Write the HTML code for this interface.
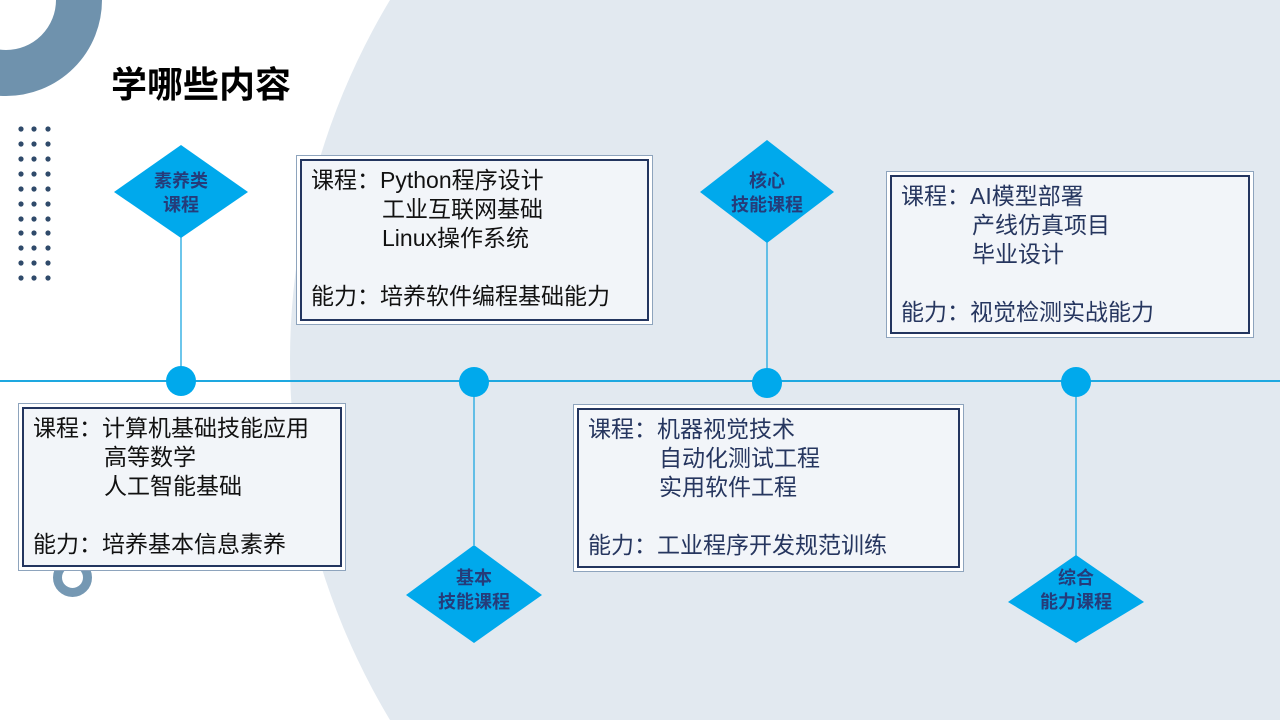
<!DOCTYPE html>
<html><head><meta charset="utf-8"><style>
*{margin:0;padding:0;box-sizing:border-box}
html,body{width:1280px;height:720px;overflow:hidden}
body{background:#fff;position:relative;font-family:"Liberation Sans","Noto Sans CJK SC",sans-serif}
#wrap{position:absolute;left:0;top:0;width:1280px;height:720px;overflow:hidden}
.a{position:absolute}
.box{position:absolute;border:1px solid #8ea4bd;background:#fff;padding:3px}
.in{border:2.5px solid #23355f;background:#f2f5f9;width:100%;height:100%;padding:5px 0 0 9px;font-size:23px;line-height:29px;color:#111;position:relative}
.in .r{white-space:nowrap}
.in .ind{padding-left:71px}
.dia{position:absolute;display:flex;align-items:center;justify-content:center;text-align:center;font-weight:bold;font-size:18px;line-height:24px;color:#253c7a}
</style></head><body><div id="wrap">
<svg class="a" style="left:0;top:0" width="1280" height="720"><circle cx="988" cy="360" r="698" fill="#e2e9f0"/></svg>
<svg class="a" style="left:0;top:0" width="120" height="120"><circle cx="6" cy="0" r="73" fill="none" stroke="#6f92ad" stroke-width="46"/></svg>
<div class="a" style="left:53px;top:558px;width:39px;height:39px;border-radius:50%;border:9px solid #7598b3"></div>
<div class="a" style="left:111px;top:62px;font-size:36px;line-height:46px;font-weight:bold;color:#000">学哪些内容</div>
<svg class="a" style="left:0;top:0" width="1280" height="720">
<g fill="#2f4a6a">
<circle cx="21" cy="129" r="2.6"/><circle cx="34" cy="129" r="2.6"/><circle cx="48" cy="129" r="2.6"/>
<circle cx="21" cy="144" r="2.6"/><circle cx="34" cy="144" r="2.6"/><circle cx="48" cy="144" r="2.6"/>
<circle cx="21" cy="159" r="2.6"/><circle cx="34" cy="159" r="2.6"/><circle cx="48" cy="159" r="2.6"/>
<circle cx="21" cy="174" r="2.6"/><circle cx="34" cy="174" r="2.6"/><circle cx="48" cy="174" r="2.6"/>
<circle cx="21" cy="189" r="2.6"/><circle cx="34" cy="189" r="2.6"/><circle cx="48" cy="189" r="2.6"/>
<circle cx="21" cy="204" r="2.6"/><circle cx="34" cy="204" r="2.6"/><circle cx="48" cy="204" r="2.6"/>
<circle cx="21" cy="219" r="2.6"/><circle cx="34" cy="219" r="2.6"/><circle cx="48" cy="219" r="2.6"/>
<circle cx="21" cy="233" r="2.6"/><circle cx="34" cy="233" r="2.6"/><circle cx="48" cy="233" r="2.6"/>
<circle cx="21" cy="248" r="2.6"/><circle cx="34" cy="248" r="2.6"/><circle cx="48" cy="248" r="2.6"/>
<circle cx="21" cy="263" r="2.6"/><circle cx="34" cy="263" r="2.6"/><circle cx="48" cy="263" r="2.6"/>
<circle cx="21" cy="278" r="2.6"/><circle cx="34" cy="278" r="2.6"/><circle cx="48" cy="278" r="2.6"/>
</g>
<line x1="0" y1="381" x2="1280" y2="381" stroke="#1ea8e0" stroke-width="2"/>
<g stroke="#1ea8e0" stroke-width="1.3">
<line x1="181" y1="230" x2="181" y2="381"/>
<line x1="474" y1="381" x2="474" y2="545"/>
<line x1="767" y1="235" x2="767" y2="381"/>
<line x1="1076" y1="381" x2="1076" y2="560"/>
</g>
<g fill="#00a9ec">
<circle cx="181" cy="381" r="15"/><circle cx="474" cy="382" r="15"/><circle cx="767" cy="383" r="15"/><circle cx="1076" cy="382" r="15"/>
<polygon points="114,192 181,145 248,192 181,238"/>
<polygon points="406,595 474,545 542,595 474,643"/>
<polygon points="700,192 767,140 834,192 767,243"/>
<polygon points="1008,602 1076,555 1144,602 1076,643"/>
</g>
</svg>
<div class="dia" style="left:131px;top:168px;width:100px;height:50px">素养类<br>课程</div>
<div class="dia" style="left:414px;top:565px;width:120px;height:50px">基本<br>技能课程</div>
<div class="dia" style="left:707px;top:168px;width:120px;height:50px">核心<br>技能课程</div>
<div class="dia" style="left:1016px;top:565px;width:120px;height:50px">综合<br>能力课程</div>

<div class="box" style="left:18px;top:403px;width:328px;height:168px"><div class="in">
<div class="r">课程：计算机基础技能应用</div><div class="r ind">高等数学</div><div class="r ind">人工智能基础</div><div style="height:29px"></div><div class="r">能力：培养基本信息素养</div></div></div>

<div class="box" style="left:296px;top:155px;width:357px;height:170px"><div class="in">
<div class="r">课程：Python程序设计</div><div class="r ind">工业互联网基础</div><div class="r ind">Linux操作系统</div><div style="height:29px"></div><div class="r">能力：培养软件编程基础能力</div></div></div>

<div class="box" style="left:573px;top:404px;width:391px;height:168px"><div class="in" style="color:#26365f">
<div class="r">课程：机器视觉技术</div><div class="r ind">自动化测试工程</div><div class="r ind">实用软件工程</div><div style="height:29px"></div><div class="r">能力：工业程序开发规范训练</div></div></div>

<div class="box" style="left:886px;top:171px;width:368px;height:167px"><div class="in" style="color:#26365f">
<div class="r">课程：AI模型部署</div><div class="r ind">产线仿真项目</div><div class="r ind">毕业设计</div><div style="height:29px"></div><div class="r">能力：视觉检测实战能力</div></div></div>
</div></body></html>
